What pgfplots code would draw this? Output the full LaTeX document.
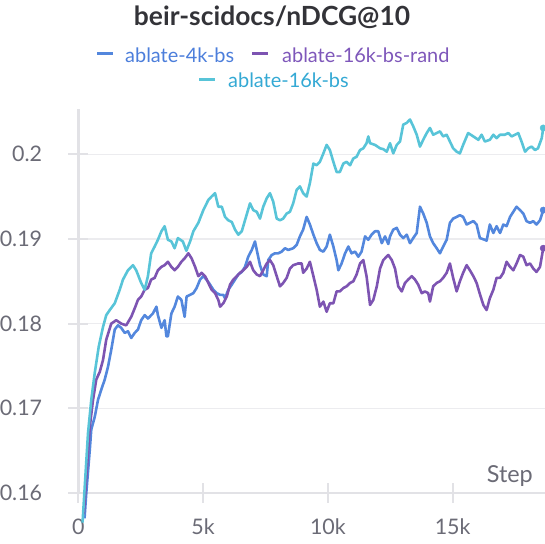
\documentclass[border=0pt]{standalone}
\usepackage{pgfplots}
\pgfplotsset{compat=1.18}
\usepackage{pgfplotstable}
\usepackage{fontspec}
\setmainfont{Lato}
\definecolor{cblue}{HTML}{5387DD}
\definecolor{cpurple}{HTML}{7D54B2}
\definecolor{ccyan}{HTML}{58C4D8}
\definecolor{cbluetext}{HTML}{4C7EDB}
\definecolor{cpurpletext}{HTML}{7E57BA}
\definecolor{ccyantext}{HTML}{34A9D4}
\definecolor{titlegray}{HTML}{333338}
\definecolor{labelgray}{HTML}{6B6B76}
\definecolor{axisgray}{HTML}{E2E2E6}
\definecolor{gridgray}{HTML}{ECECEF}

\pgfplotstableread{
x y
0.17 0.1565
0.39 0.1671
0.52 0.1710
0.66 0.1742
0.82 0.1773
0.99 0.1796
1.12 0.1810
1.26 0.1816
1.46 0.1824
1.66 0.1840
1.79 0.1852
1.99 0.1863
2.19 0.1869
2.32 0.1863
2.52 0.1848
2.66 0.1840
2.79 0.1856
2.92 0.1883
3.06 0.1891
3.19 0.1899
3.33 0.1909
3.46 0.1915
3.59 0.1899
3.73 0.1897
3.86 0.1889
3.99 0.1901
4.19 0.1897
4.33 0.1886
4.48 0.1897
4.61 0.1909
4.81 0.1919
5.01 0.1934
5.21 0.1946
5.34 0.1950
5.48 0.1954
5.61 0.1938
5.75 0.1938
5.88 0.1926
6.01 0.1922
6.15 0.1920
6.28 0.1911
6.41 0.1905
6.55 0.1909
6.68 0.1922
6.88 0.1942
7.01 0.1934
7.15 0.1932
7.28 0.1924
7.41 0.1938
7.55 0.1948
7.68 0.1954
7.81 0.1944
7.95 0.1924
8.08 0.1922
8.21 0.1924
8.35 0.1930
8.48 0.1932
8.61 0.1942
8.75 0.1958
8.88 0.1962
9.01 0.1954
9.15 0.1950
9.28 0.1966
9.42 0.1989
9.55 0.1987
9.68 0.1991
9.82 0.2001
9.95 0.2011
10.08 0.2005
10.22 0.1991
10.35 0.1979
10.48 0.1979
10.62 0.1989
10.75 0.1991
10.89 0.1987
11.02 0.1995
11.15 0.1997
11.29 0.2005
11.42 0.2007
11.55 0.2013
11.62 0.2021
11.69 0.2013
11.89 0.2011
12.09 0.2007
12.22 0.2006
12.36 0.2003
12.49 0.2013
12.62 0.2001
12.76 0.2011
12.89 0.2015
13.02 0.2035
13.16 0.2037
13.29 0.2041
13.42 0.2033
13.56 0.2023
13.69 0.2009
13.82 0.2017
13.96 0.2025
14.09 0.2031
14.22 0.2023
14.36 0.2025
14.49 0.2027
14.62 0.2021
14.76 0.2023
14.89 0.2015
15.02 0.2007
15.16 0.2003
15.29 0.2001
15.42 0.2011
15.62 0.2025
15.83 0.2021
16.03 0.2017
16.16 0.2023
16.29 0.2015
16.49 0.2017
16.63 0.2023
16.76 0.2019
16.90 0.2023
17.09 0.2023
17.23 0.2025
17.36 0.2021
17.50 0.2023
17.63 0.2025
17.76 0.2015
17.90 0.2003
18.03 0.2007
18.16 0.2009
18.30 0.2005
18.42 0.2007
18.57 0.2019
18.63 0.2031
}\cyandata

\pgfplotstableread{
x y
0.25 0.1570
0.32 0.1600
0.46 0.1651
0.52 0.1675
0.66 0.1690
0.79 0.1710
0.92 0.1722
1.06 0.1734
1.19 0.1749
1.32 0.1769
1.46 0.1793
1.59 0.1798
1.72 0.1795
1.86 0.1789
1.99 0.1791
2.12 0.1783
2.26 0.1789
2.39 0.1793
2.52 0.1804
2.66 0.1810
2.79 0.1806
2.99 0.1812
3.13 0.1820
3.19 0.1810
3.33 0.1795
3.46 0.1804
3.53 0.1785
3.59 0.1785
3.73 0.1812
3.86 0.1820
3.99 0.1832
4.13 0.1828
4.21 0.1816
4.26 0.1808
4.34 0.1832
4.48 0.1834
4.61 0.1836
4.74 0.1842
4.88 0.1852
5.01 0.1856
5.14 0.1852
5.28 0.1846
5.41 0.1840
5.54 0.1836
5.68 0.1834
5.81 0.1834
5.88 0.1830
6.01 0.1840
6.15 0.1846
6.28 0.1852
6.41 0.1858
6.55 0.1861
6.68 0.1867
6.81 0.1879
6.95 0.1887
7.08 0.1897
7.15 0.1887
7.28 0.1869
7.41 0.1858
7.55 0.1856
7.61 0.1875
7.75 0.1881
7.88 0.1883
8.01 0.1883
8.15 0.1885
8.28 0.1889
8.41 0.1887
8.61 0.1889
8.75 0.1893
8.88 0.1903
9.01 0.1911
9.15 0.1926
9.28 0.1917
9.42 0.1905
9.55 0.1895
9.68 0.1887
9.82 0.1885
9.95 0.1891
10.08 0.1905
10.22 0.1891
10.35 0.1875
10.42 0.1863
10.55 0.1871
10.69 0.1883
10.82 0.1891
10.95 0.1883
11.09 0.1885
11.22 0.1879
11.35 0.1885
11.49 0.1903
11.62 0.1899
11.75 0.1905
11.89 0.1909
12.02 0.1909
12.16 0.1895
12.29 0.1903
12.42 0.1894
12.49 0.1903
12.62 0.1911
12.76 0.1913
12.89 0.1905
13.02 0.1901
13.16 0.1905
13.29 0.1895
13.42 0.1901
13.56 0.1907
13.69 0.1938
13.82 0.1930
13.96 0.1919
14.09 0.1903
14.22 0.1895
14.36 0.1889
14.49 0.1883
14.62 0.1891
14.76 0.1899
14.89 0.1919
15.02 0.1924
15.16 0.1926
15.29 0.1928
15.42 0.1926
15.56 0.1917
15.69 0.1919
15.83 0.1921
15.96 0.1917
16.09 0.1901
16.29 0.1899
16.36 0.1898
16.49 0.1917
16.63 0.1907
16.76 0.1915
16.90 0.1907
17.03 0.1917
17.16 0.1915
17.30 0.1926
17.43 0.1932
17.56 0.1938
17.70 0.1934
17.83 0.1930
17.96 0.1921
18.10 0.1919
18.23 0.1921
18.36 0.1917
18.50 0.1922
18.63 0.1934
}\bluedata

\pgfplotstableread{
x y
0.22 0.1575
0.46 0.1678
0.59 0.1710
0.72 0.1734
0.86 0.1743
0.99 0.1757
1.12 0.1781
1.32 0.1800
1.52 0.1804
1.72 0.1800
1.92 0.1798
2.12 0.1808
2.26 0.1818
2.39 0.1828
2.52 0.1832
2.66 0.1840
2.79 0.1842
2.92 0.1852
3.06 0.1854
3.19 0.1863
3.33 0.1867
3.46 0.1869
3.59 0.1873
3.73 0.1867
3.86 0.1863
3.99 0.1867
4.13 0.1873
4.26 0.1877
4.41 0.1883
4.54 0.1877
4.68 0.1867
4.81 0.1856
4.94 0.1860
5.08 0.1856
5.21 0.1848
5.34 0.1840
5.48 0.1836
5.61 0.1828
5.68 0.1820
5.81 0.1824
5.95 0.1832
6.08 0.1846
6.21 0.1852
6.35 0.1856
6.48 0.1860
6.61 0.1863
6.75 0.1867
6.88 0.1873
7.01 0.1863
7.15 0.1858
7.28 0.1856
7.41 0.1863
7.55 0.1871
7.68 0.1875
7.81 0.1869
7.95 0.1856
8.08 0.1844
8.21 0.1848
8.35 0.1854
8.48 0.1865
8.61 0.1869
8.81 0.1871
8.95 0.1871
9.01 0.1860
9.15 0.1865
9.28 0.1873
9.42 0.1856
9.55 0.1840
9.68 0.1820
9.82 0.1826
9.95 0.1814
10.08 0.1824
10.22 0.1824
10.35 0.1838
10.48 0.1838
10.62 0.1842
10.75 0.1844
10.89 0.1848
11.02 0.1850
11.15 0.1858
11.29 0.1871
11.42 0.1875
11.55 0.1856
11.69 0.1822
11.82 0.1828
11.96 0.1844
12.09 0.1865
12.22 0.1875
12.42 0.1881
12.56 0.1875
12.69 0.1865
12.82 0.1844
12.96 0.1838
13.09 0.1848
13.22 0.1852
13.36 0.1856
13.49 0.1852
13.62 0.1846
13.76 0.1836
13.89 0.1838
14.02 0.1836
14.09 0.1826
14.22 0.1844
14.36 0.1848
14.49 0.1850
14.62 0.1854
14.76 0.1860
14.89 0.1871
15.02 0.1854
15.16 0.1838
15.29 0.1850
15.42 0.1860
15.56 0.1869
15.69 0.1863
15.83 0.1856
15.96 0.1848
16.09 0.1835
16.23 0.1822
16.36 0.1816
16.49 0.1830
16.63 0.1840
16.76 0.1854
16.90 0.1854
17.03 0.1860
17.16 0.1873
17.30 0.1867
17.43 0.1863
17.56 0.1871
17.70 0.1881
17.83 0.1879
17.96 0.1869
18.10 0.1871
18.23 0.1865
18.36 0.1861
18.50 0.1867
18.63 0.1889
}\purpledata

\begin{document}
\begin{tikzpicture}
\path[use as bounding box] (-78.3bp,-51bp) rectangle (466.7bp,493bp);
\begin{axis}[
  at={(0bp,0bp)}, anchor=south west,
  scale only axis, width=466.7bp, height=384bp,
  xmin=0, xmax=18.7, ymin=0.16, ymax=0.20534,
  axis lines=left,
  axis line style={-, line width=2.5bp, draw=axisgray},
  xtick={0,5,10,15}, xticklabels={0,5k,10k,15k},
  ytick={0.16,0.17,0.18,0.19,0.2},
  yticklabels={0.16,0.17,0.18,0.19,0.2},
  ymajorgrids, grid style={gridgray, line width=1.2bp},
  major tick length=20bp, tick align=center,
  tick style={axisgray, line width=1.8bp},
  tick label style={font=\fontsize{21.5}{21.5}\selectfont, text=labelgray},
  xticklabel style={anchor=north, inner sep=0pt, yshift=-16bp},
  yticklabel style={anchor=east, inner sep=0pt, xshift=-26bp},
  clip=false,
]
\addplot[cblue, line width=2.6bp, line join=round] table {\bluedata};
\addplot[cpurple, line width=2.6bp, line join=round] table {\purpledata};
\addplot[ccyan, line width=2.6bp, line join=round] table {\cyandata};
\addplot[only marks, mark=*, mark size=3.2bp, cblue] coordinates {(18.63,0.1934)};
\addplot[only marks, mark=*, mark size=3.2bp, cpurple] coordinates {(18.63,0.1889)};
\addplot[only marks, mark=*, mark size=3.2bp, ccyan] coordinates {(18.63,0.2031)};
\end{axis}
\node[anchor=base east, inner sep=0pt, font=\fontsize{23.5}{23.5}\selectfont, text=labelgray] at (454.7bp,10.3bp) {Step};
\node[anchor=base, inner sep=0pt, font=\fontsize{26.5}{26.5}\selectfont\bfseries, text=titlegray] at (193.7bp,467bp) {beir-scidocs/nDCG@10};
\draw[cblue, line width=3bp] (18.7bp,439bp) -- (34.7bp,439bp);
\node[anchor=base west, inner sep=0pt, font=\fontsize{20}{20}\selectfont, text=cbluetext] at (46.7bp,430.7bp) {ablate-4k-bs};
\draw[cpurple, line width=3bp] (173.7bp,439bp) -- (189.7bp,439bp);
\node[anchor=base west, inner sep=0pt, font=\fontsize{20}{20}\selectfont, text=cpurpletext] at (203.7bp,430.7bp) {ablate-16k-bs-rand};
\draw[ccyan, line width=3bp] (120.7bp,413bp) -- (136.7bp,413bp);
\node[anchor=base west, inner sep=0pt, font=\fontsize{20}{20}\selectfont, text=ccyantext] at (149.7bp,405.7bp) {ablate-16k-bs};
\end{tikzpicture}
\end{document}
